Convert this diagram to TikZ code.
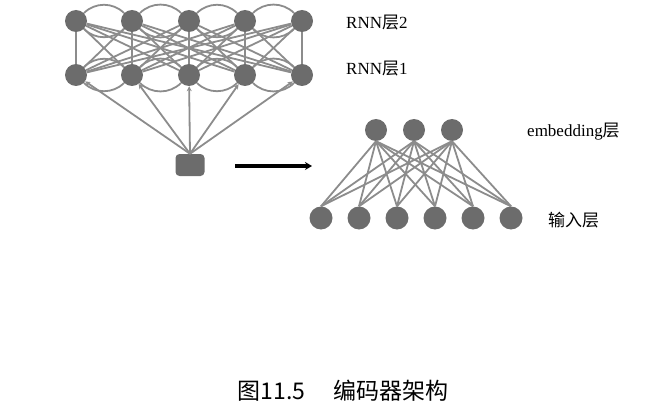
\documentclass[tikz,border=0pt]{standalone}
\usepackage{fontspec}
\setmainfont{Liberation Serif}
\newfontfamily\cjk{Noto Sans CJK SC}
\usetikzlibrary{arrows.meta}
\definecolor{unitgray}{RGB}{108,108,108}
\definecolor{wiregray}{RGB}{140,140,140}
\tikzset{
  unit/.style    = {circle, fill=unitgray, minimum size=22pt, inner sep=0pt},
  inunit/.style  = {unit, minimum size=23pt},
  srcbox/.style  = {rectangle, rounded corners=4pt, fill=unitgray,
                    minimum width=29pt, minimum height=22pt, inner sep=0pt},
  wire/.style    = {draw=wiregray, line width=1.8pt},
  lbl/.style     = {anchor=west, inner sep=0pt, font=\fontsize{17}{17}\selectfont},
  caption/.style = {inner sep=0pt, font=\fontsize{23}{23}\selectfont\cjk}
}

\begin{document}
\begin{tikzpicture}[x=1pt,y=-1pt]
 \useasboundingbox (0,0) rectangle (670,412);

 % RNN layers
 \foreach \i/\x in {1/76,2/132,3/189,4/245,5/302} {
   \node[unit] (rb-\i) at (\x,21) {};
   \node[unit] (ra-\i) at (\x,75) {};
 }
 \foreach \i/\j in {1/2,2/3,3/4,4/5} {
   \draw[wire] (rb-\i) to[bend left=45] (rb-\j);
   \draw[wire] (rb-\i) to[bend right=45] (rb-\j);
   \draw[wire] (ra-\i) to[bend left=45] (ra-\j);
   \draw[wire] (ra-\i) to[bend right=45] (ra-\j);
 }
 \foreach \i in {1,...,5}
   \foreach \j in {1,...,5}
     \draw[wire] (rb-\i) -- (ra-\j);

 \node[srcbox] (src) at (190,165) {};
 \foreach \j in {1,...,5}
   \draw[wire, -{Stealth[length=5pt,width=5pt]}] (src.north) -- (ra-\j);

 \node[lbl] (l-rb) at (346,23) {RNN{\cjk 层}2};
 \node[lbl] (l-ra) at (346,69) {RNN{\cjk 层}1};

 % arrow
 \coordinate (go-s) at (235,166);
 \coordinate (go-e) at (312,166);
 \draw[line width=3.2pt, -{Stealth[length=7pt,width=8pt]}] (go-s) -- (go-e);

 % embedding
 \foreach \j/\x in {1/376,2/414,3/452}
   \node[unit] (emb-\j) at (\x,130) {};
 \foreach \i/\x in {1/321,2/359,3/397,4/435,5/473,6/511}
   \node[inunit] (in-\i) at (\x,218) {};
 \foreach \i in {1,...,6}
   \foreach \j in {1,2,3}
     \draw[wire] (in-\i.north) -- (emb-\j.south);

 \node[lbl] (l-emb) at (527,132) {embedding{\cjk 层}};
 \node[lbl] (l-in) at (548,220) {\cjk 输入层};

 \node[caption] (cap) at (343,391) {图11.5\hspace{28pt}编码器架构};
\end{tikzpicture}
\end{document}
